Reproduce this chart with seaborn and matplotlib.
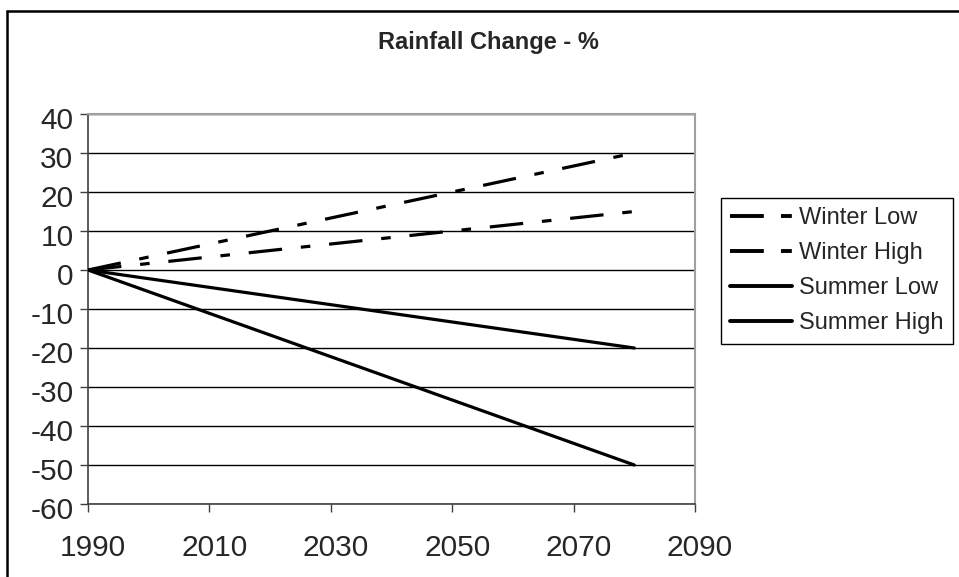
import matplotlib
matplotlib.use("Agg")
import matplotlib.pyplot as plt
import matplotlib.transforms as mtransforms
from matplotlib.lines import Line2D
import seaborn as sns
import pandas as pd

years = [1990, 2020, 2050, 2080]
winter_low = [0, 5, 10, 15]
winter_high = [0, 10, 20, 30]
summer_low = [0, -6.67, -13.33, -20]
summer_high = [0, -16.67, -33.33, -50]
series_names = ["Winter Low", "Winter High", "Summer Low", "Summer High"]
x_ticks = [1990, 2010, 2030, 2050, 2070, 2090]
y_ticks = [-60, -50, -40, -30, -20, -10, 0, 10, 20, 30, 40]
title = "Rainfall Change - %"

rows = []
for name, vals in zip(series_names, [winter_low, winter_high, summer_low, summer_high]):
    for y, v in zip(years, vals):
        rows.append({"Year": y, "Change": v, "Series": name})
df = pd.DataFrame(rows)

sns.set_style("white")
plt.rcParams["font.family"] = ["Liberation Sans", "DejaVu Sans"]

fig = plt.figure(figsize=(9.59, 5.77), dpi=100)
ax = fig.add_axes([88 / 959, 1 - 504 / 577, (695 - 88) / 959, (504 - 114) / 577])

dash = (10.5, 5.9, 3, 5.9)
dashes = {"Winter Low": dash, "Winter High": dash, "Summer Low": "", "Summer High": ""}
sns.lineplot(data=df, x="Year", y="Change", style="Series", dashes=dashes,
             color="black", linewidth=2.3, ax=ax, legend=False, zorder=3)

ax.set_xlim(1990, 2090)
ax.set_ylim(-60, 40)
ax.set_xticks(x_ticks)
ax.set_yticks(y_ticks)
ax.set_xticklabels([str(t) for t in x_ticks])
ax.set_yticklabels([str(t) for t in y_ticks])
ax.set_xlabel("")
ax.set_ylabel("")
ax.yaxis.grid(True, color="black", linewidth=1.0)
ax.xaxis.grid(False)
ax.set_axisbelow(True)
ax.tick_params(axis="x", direction="out", length=5.5, width=1, color="#404040",
               labelsize=21.5, pad=16, bottom=True)
ax.tick_params(axis="y", direction="out", length=5.5, width=1, color="#404040",
               labelsize=21.5, pad=5.0, left=True)
for side in ["left", "bottom"]:
    ax.spines[side].set_color("#404040")
    ax.spines[side].set_linewidth(1.2)
for side in ["top", "right"]:
    ax.spines[side].set_color("#a0a0a0")
    ax.spines[side].set_linewidth(1.5)

# small label offsets like the original renderer
xoff = mtransforms.ScaledTranslation(5 / 100, 0, fig.dpi_scale_trans)
for lab in ax.get_xticklabels():
    lab.set_transform(lab.get_transform() + xoff)
yoff = mtransforms.ScaledTranslation(0, -4 / 100, fig.dpi_scale_trans)
for lab in ax.get_yticklabels():
    lab.set_transform(lab.get_transform() + yoff)

handles = [
    Line2D([0], [0], color="black", linewidth=2.8, dashes=(8.7, 4.4, 2.8, 4.4)),
    Line2D([0], [0], color="black", linewidth=2.8, dashes=(8.7, 4.4, 2.8, 4.4)),
    Line2D([0], [0], color="black", linewidth=2.8),
    Line2D([0], [0], color="black", linewidth=2.8),
]
leg = fig.legend(handles, series_names, loc="upper left",
                 bbox_to_anchor=(721 / 959, 1 - 198 / 577), fontsize=17,
                 frameon=True, fancybox=False, framealpha=1, edgecolor="black",
                 handlelength=2.6, handletextpad=0.3, borderpad=0.4,
                 labelspacing=0.55, borderaxespad=0)
leg.get_frame().set_linewidth(1.0)

fig.text(488 / 959, 1 - 43 / 577, title, ha="center", va="center",
         fontsize=17, fontweight="bold")

fig.add_artist(Line2D([7 / 959, 1.0], [1 - 10.5 / 577, 1 - 10.5 / 577],
                      color="black", linewidth=1.8, transform=fig.transFigure))
fig.add_artist(Line2D([7 / 959, 7 / 959], [1 - 10.5 / 577, 0],
                      color="black", linewidth=1.8, transform=fig.transFigure))

fig.savefig("out.png", dpi=100, facecolor="white")
